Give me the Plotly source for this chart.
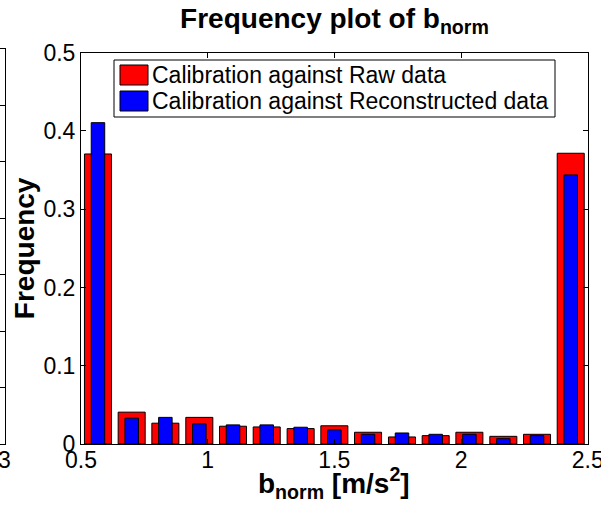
import plotly.graph_objects as go

# ---- data ----
bin_centers = [0.567, 0.700, 0.833, 0.967, 1.100, 1.233, 1.367, 1.500,
               1.633, 1.767, 1.900, 2.033, 2.167, 2.300, 2.433]
freq_raw = [0.3706, 0.0407, 0.0266, 0.0340, 0.0227, 0.0218, 0.0197, 0.0233,
            0.0150, 0.0090, 0.0107, 0.0150, 0.0098, 0.0124, 0.3715]
freq_recon = [0.4106, 0.0330, 0.0340, 0.0257, 0.0244, 0.0244, 0.0214, 0.0180,
              0.0124, 0.0141, 0.0124, 0.0124, 0.0068, 0.0107, 0.3438]
series_names = ["Calibration against Raw data",
                "Calibration against Reconstructed data"]
series_colors = ["#FF0000", "#0000FF"]
x_ticks = [0.5, 1, 1.5, 2, 2.5]
x_tick_text = ["0.5", "1", "1.5", "2", "2.5"]
y_ticks = [0, 0.1, 0.2, 0.3, 0.4, 0.5]
y_tick_text = ["0", "0.1", "0.2", "0.3", "0.4", "0.5"]

bin_w = 2.0 / 15
W, H = 601, 506
FONT = "Liberation Sans, Arial, sans-serif"
FS = 23

fig = go.Figure()
fig.add_trace(go.Bar(
    x=bin_centers, y=freq_raw, name=series_names[0],
    width=[0.8 * bin_w] * len(bin_centers),
    marker=dict(color=series_colors[0], line=dict(color="black", width=1)),
    xaxis="x", yaxis="y", showlegend=False))
fig.add_trace(go.Bar(
    x=bin_centers, y=freq_recon, name=series_names[1],
    width=[0.4 * bin_w] * len(bin_centers),
    marker=dict(color=series_colors[1], line=dict(color="black", width=1)),
    xaxis="x", yaxis="y", showlegend=False))

# neighbouring (cropped) panel on the far left: only its frame is visible
fig.add_trace(go.Scatter(x=[None], y=[None], xaxis="x2", yaxis="y2",
                         showlegend=False, hoverinfo="skip"))

ax_common = dict(showline=True, linecolor="black", linewidth=1, mirror="allticks",
                 ticks="inside", ticklen=5, tickcolor="black", tickwidth=1,
                 showgrid=False, zeroline=False, automargin=False,
                 ticklabeloverflow="allow",
                 tickfont=dict(family=FONT, size=FS, color="black"))

# ---- legend (MATLAB style: large swatches, boxed) ----
shapes = [dict(type="rect", xref="paper", yref="paper",
               x0=114 / W, x1=555 / W, y0=1 - 117 / H, y1=1 - 60 / H,
               line=dict(color="black", width=1), fillcolor="white", layer="above")]
annotations = []
row_centers = [75, 101]
for name, col, yc in zip(series_names, series_colors, row_centers):
    shapes.append(dict(type="rect", xref="paper", yref="paper",
                       x0=120 / W, x1=148 / W, y0=1 - (yc + 10) / H, y1=1 - (yc - 10) / H,
                       line=dict(color="black", width=1), fillcolor=col, layer="above"))
    annotations.append(dict(text=name, xref="paper", yref="paper",
                            x=150 / W, y=1 - yc / H, xanchor="left", yanchor="middle",
                            showarrow=False,
                            font=dict(family=FONT, size=FS, color="black")))

# x-axis title
annotations.append(dict(text="<b>b<sub>norm</sub> [m/s<sup>2</sup>]</b>",
                        xref="paper", yref="paper", x=334.5 / W, y=1 - 483 / H,
                        xanchor="center", yanchor="middle", showarrow=False,
                        font=dict(family=FONT, size=28, color="black")))

fig.update_layout(
    template="none",
    width=W, height=H,
    margin=dict(l=0, r=0, t=0, b=0, autoexpand=False),
    paper_bgcolor="white", plot_bgcolor="white",
    barmode="overlay",
    font=dict(family=FONT, color="black"),
    title=dict(text="<b>Frequency plot of b<sub>norm</sub></b>",
               font=dict(family=FONT, size=28, color="black"),
               x=334.5 / W, xanchor="center", xref="paper",
               y=1 - 18 / H, yanchor="middle", yref="container"),
    xaxis=dict(domain=[81 / W, 587.7 / W], range=[0.5, 2.5],
               tickvals=x_ticks, ticktext=x_tick_text, ticklabelstandoff=-5,
               **ax_common),
    yaxis=dict(domain=[62 / H, 453.3 / H], range=[0, 0.5],
               tickvals=y_ticks, ticktext=y_tick_text,
               title=dict(text="<b>Frequency</b>",
                          font=dict(family=FONT, size=28, color="black"),
                          standoff=0),
               **ax_common),
    xaxis2=dict(domain=[0, 4.5 / W], range=[2.9, 3], tickvals=[3], ticktext=["3"],
                ticklabelstandoff=-5, anchor="y2", **ax_common),
    yaxis2=dict(domain=[62 / H, 457 / H], range=[0, 0.7], dtick=0.1,
                showticklabels=False, anchor="x2", **ax_common),
    shapes=shapes,
    annotations=annotations,
    showlegend=False,
)

fig.write_html("out.html")
